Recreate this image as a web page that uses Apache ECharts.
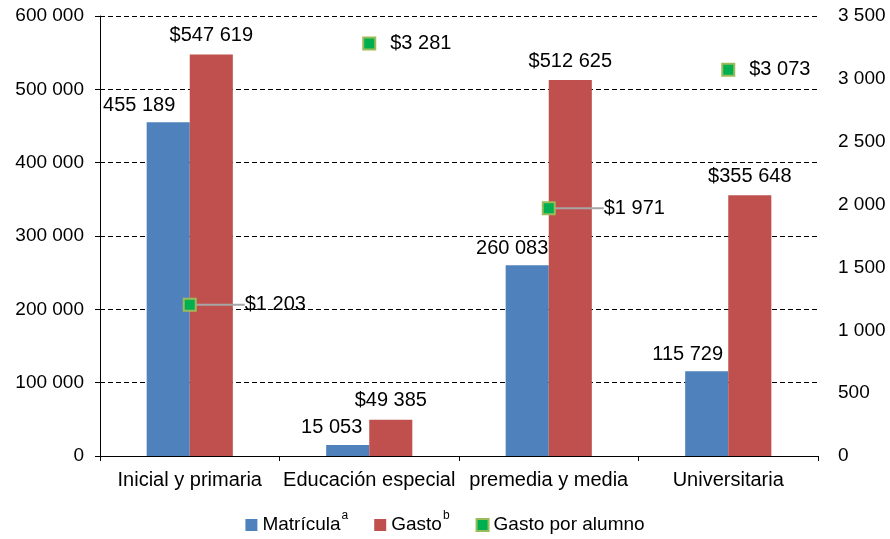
<!DOCTYPE html>
<html>
<head>
<meta charset="utf-8">
<script src="https://cdn.jsdelivr.net/npm/echarts@6/dist/echarts.min.js"></script>
<style>
  html, body { margin: 0; padding: 0; background: #fff; }
  #chart { width: 890px; height: 539px; }
</style>
</head>
<body>
<div id="chart"></div>
<script>
// datos
var categorias = ['Inicial y primaria', 'Educación especial', 'premedia y media', 'Universitaria'];
var matricula = [455189, 15053, 260083, 115729];
var gasto = [547619, 49385, 512625, 355648];
var gastoPorAlumno = [1203, 3281, 1971, 3073];

// etiquetas con línea guía (solo algunas)
var conLinea = [true, false, true, false];
// ajuste horizontal de las etiquetas azules
var desplazaAzul = [-29, -16, -15, -19];

// separador de miles con espacio
function fmt(v) {
  return String(v).replace(/\B(?=(\d{3})+(?!\d))/g, ' ');
}

var fuente = 'Liberation Sans, Arial, sans-serif';
var myChart = echarts.init(document.getElementById('chart'));

var option = {
  animation: false,
  textStyle: { fontFamily: fuente, color: '#000' },
  grid: { left: 100, right: 72, top: 16, bottom: 83 },
  legend: {
    bottom: -6,
    left: 'center',
    icon: 'rect',
    itemWidth: 12,
    itemHeight: 12,
    itemGap: 26,
    textStyle: {
      fontSize: 19,
      color: '#000',
      lineHeight: 30,
      rich: {
        sup: { fontSize: 12, verticalAlign: 'top', color: '#000', padding: [0, 0, 0, 1] }
      }
    },
    formatter: function (name) {
      if (name === 'Matrícula') return name + '{sup|a}';
      if (name === 'Gasto') return name + '{sup|b}';
      return name;
    },
    data: ['Matrícula', 'Gasto', 'Gasto por alumno']
  },
  xAxis: {
    type: 'category',
    data: categorias,
    axisLine: { lineStyle: { color: '#000', width: 1 } },
    axisTick: { show: true, length: 5, lineStyle: { color: '#000' } },
    axisLabel: { color: '#000', fontSize: 20, margin: 14, interval: 0 }
  },
  yAxis: [
    {
      type: 'value',
      min: 0,
      max: 600000,
      interval: 100000,
      axisLine: { show: true, lineStyle: { color: '#000' } },
      axisTick: { show: true, length: 5, lineStyle: { color: '#000' } },
      axisLabel: { color: '#000', fontSize: 19, margin: 16, formatter: fmt },
      splitLine: { show: true, lineStyle: { color: '#000', type: [5, 3], width: 1 } }
    },
    {
      type: 'value',
      min: 0,
      max: 3500,
      interval: 500,
      axisLine: { show: false },
      axisTick: { show: false },
      axisLabel: { color: '#000', fontSize: 19, margin: 20, formatter: fmt },
      splitLine: { show: false }
    }
  ],
  series: [
    {
      name: 'Matrícula',
      type: 'bar',
      barWidth: '24%',
      barGap: '0%',
      itemStyle: { color: '#4F81BD' },
      data: matricula.map(function (v, i) {
        return { value: v, label: { offset: [desplazaAzul[i], 0] } };
      }),
      label: {
        show: true,
        position: 'top',
        distance: 7,
        color: '#000',
        fontSize: 20,
        formatter: function (p) { return fmt(p.value); }
      }
    },
    {
      name: 'Gasto',
      type: 'bar',
      barWidth: '24%',
      barGap: '0%',
      itemStyle: { color: '#C0504D' },
      data: gasto,
      label: {
        show: true,
        position: 'top',
        distance: 9,
        color: '#000',
        fontSize: 20,
        formatter: function (p) { return '$' + fmt(p.value); }
      }
    },
    {
      name: 'Gasto por alumno',
      type: 'scatter',
      yAxisIndex: 1,
      symbol: 'rect',
      symbolSize: 12,
      itemStyle: { color: '#00B050', borderColor: '#9BBB59', borderWidth: 2, opacity: 1 },
      data: gastoPorAlumno.map(function (v, i) {
        return { value: v, labelLine: { show: conLinea[i] } };
      }),
      label: {
        show: true,
        position: 'right',
        distance: 14,
        color: '#000',
        fontSize: 20,
        formatter: function (p) { return '$' + fmt(p.value); }
      },
      labelLine: { show: true, lineStyle: { color: '#A6A6A6', width: 2 } },
      labelLayout: function (params) {
        return conLinea[params.dataIndex] ? { dx: 34 } : {};
      }
    }
  ]
};

myChart.setOption(option);
window.onresize = function () { myChart.resize(); };
</script>
</body>
</html>
